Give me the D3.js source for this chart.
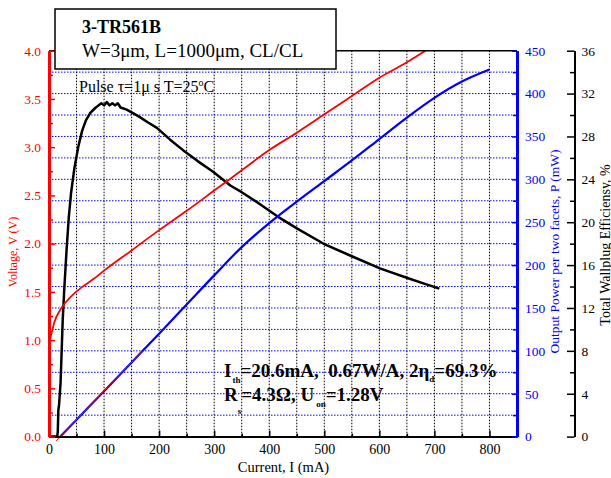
<!DOCTYPE html>
<html>
<head>
<meta charset="utf-8">
<script src="https://cdn.jsdelivr.net/npm/d3@7"></script>
<style>
body { margin: 0; background: #fff; }
svg { display: block; font-family: 'Liberation Serif', 'Times New Roman', serif; }
</style>
</head>
<body>
<script>
// Chart parameters
const width = 611;
const height = 478;
const plot = { left: 49, right: 517, top: 50.7, bottom: 436.6 };
const effAxisX = 574.5;

// Tick labels
const currentTicks = [0, 100, 200, 300, 400, 500, 600, 700, 800];
const voltageTicks = [0, 0.5, 1, 1.5, 2, 2.5, 3, 3.5, 4];
const powerTicks = [0, 50, 100, 150, 200, 250, 300, 350, 400, 450];
const effTicks = [0, 4, 8, 12, 16, 20, 24, 28, 32, 36];

// Voltage V (V) vs current I (mA)
const voltage = [
  [1, 0.95], [2, 1.0], [5, 1.08], [10, 1.19], [20, 1.31], [30, 1.39], [45, 1.48],
  [60, 1.55], [80, 1.63], [100, 1.72], [150, 1.93], [200, 2.14], [250, 2.34],
  [300, 2.55], [350, 2.76], [400, 2.97], [450, 3.15], [500, 3.34], [550, 3.53],
  [600, 3.72], [650, 3.88], [700, 4.06]
];

// Output power P (mW) vs current I (mA)
const power = [
  [20.6, 0], [50, 19.7], [100, 53], [150, 86.5], [200, 120], [250, 154], [300, 188],
  [350, 221], [400, 249], [450, 274], [500, 298], [550, 322], [600, 347],
  [650, 372], [700, 395], [750, 414], [800, 428]
];

// Linear fit of P-I near threshold
const powerFit = [[13, -5], [170, 100]];

// Wallplug efficiency (%) vs current I (mA)
const efficiency = [
  [0, 0], [15, 0], [16, 0.5], [17, 2.5], [18, 2.8], [19, 3.5], [21, 5], [22, 6.5],
  [24, 9.5], [25, 11], [28, 14], [32, 17.5], [36, 20.5], [40, 22.7], [46, 25],
  [53, 27], [60, 28.5], [67, 29.5], [75, 30.2], [85, 30.7], [90, 30.9], [95, 31.1],
  [100, 30.9], [105, 31.2], [110, 30.9], [115, 31.1], [120, 30.9], [125, 31.1],
  [130, 30.7], [141, 30.5], [155, 30.1], [165, 29.8], [180, 29.3], [196, 28.8],
  [220, 27.7], [244, 26.7], [270, 25.7], [298, 24.7], [330, 23.4], [350, 22.8],
  [380, 21.8], [416, 20.5], [451, 19.4], [502, 17.9], [551, 16.8], [601, 15.7],
  [651, 14.8], [680, 14.3], [709, 13.8]
];

const svg = d3.select('body')
  .append('svg')
  .attr('width', width)
  .attr('height', height);

// Scales
const x = d3.scaleLinear().domain([0, 850]).range([plot.left, plot.right]);
const yV = d3.scaleLinear().domain([0, 4]).range([plot.bottom, plot.top]);
const yP = d3.scaleLinear().domain([0, 450]).range([plot.bottom, plot.top]);
const yE = d3.scaleLinear().domain([0, 36]).range([plot.bottom, plot.top]);

// Grid
svg.append('g')
  .selectAll('line')
  .data(d3.range(50, 801, 50))
  .join('line')
  .attr('x1', d => x(d)).attr('x2', d => x(d))
  .attr('y1', plot.top).attr('y2', plot.bottom)
  .attr('stroke', '#000').attr('stroke-width', 1)
  .attr('stroke-dasharray', '1.5,1.5');

svg.append('g')
  .selectAll('line')
  .data(d3.range(25, 426, 25))
  .join('line')
  .attr('x1', plot.left).attr('x2', plot.right)
  .attr('y1', d => yP(d)).attr('y2', d => yP(d))
  .attr('stroke', '#0000ff').attr('stroke-width', 1)
  .attr('stroke-dasharray', '1.5,1.5');

// Curves
svg.append('clipPath').attr('id', 'clip')
  .append('rect')
  .attr('x', plot.left).attr('y', plot.top)
  .attr('width', plot.right - plot.left).attr('height', plot.bottom - plot.top + 2);

const curves = svg.append('g').attr('clip-path', 'url(#clip)');

curves.append('path')
  .datum(efficiency)
  .attr('fill', 'none').attr('stroke', '#000').attr('stroke-width', 2.5)
  .attr('stroke-linejoin', 'round')
  .attr('d', d3.line().x(d => x(d[0])).y(d => yE(d[1])));

curves.append('path')
  .datum(power)
  .attr('fill', 'none').attr('stroke', '#0000ff').attr('stroke-width', 2.2)
  .attr('d', d3.line().x(d => x(d[0])).y(d => yP(d[1])).curve(d3.curveMonotoneX));

curves.append('path')
  .datum(voltage)
  .attr('fill', 'none').attr('stroke', '#ff0000').attr('stroke-width', 1.8)
  .attr('d', d3.line().x(d => x(d[0])).y(d => yV(d[1])).curve(d3.curveMonotoneX));

svg.append('path')
  .datum(powerFit)
  .attr('fill', 'none').attr('stroke', '#ff0000').attr('stroke-width', 1)
  .attr('d', d3.line().x(d => x(d[0])).y(d => yP(d[1])));

// Axes
function styleAxis(g, color, width, size) {
  g.attr('font-family', null).attr('font-size', null);
  g.select('.domain').attr('stroke', color).attr('stroke-width', width);
  g.selectAll('.tick line').attr('stroke', color).attr('stroke-width', 1.5);
  g.selectAll('.tick text').attr('fill', color).style('font-size', size + 'px');
}

// top frame
svg.append('line')
  .attr('x1', plot.left).attr('x2', plot.right)
  .attr('y1', plot.top).attr('y2', plot.top)
  .attr('stroke', '#000').attr('stroke-width', 1.5);

// bottom
svg.append('g')
  .attr('transform', `translate(0, ${plot.bottom})`)
  .call(d3.axisBottom(x).tickValues(d3.range(50, 851, 100)).tickSize(-3).tickSizeOuter(0).tickFormat(''))
  .call(g => styleAxis(g, '#000', 2, 14));
svg.append('g')
  .attr('transform', `translate(0, ${plot.bottom})`)
  .call(d3.axisBottom(x).tickValues(currentTicks).tickSize(-6).tickSizeOuter(0).tickPadding(7))
  .call(g => styleAxis(g, '#000', 2, 14));

// left, voltage
svg.append('g')
  .attr('transform', `translate(${plot.left}, 0)`)
  .call(d3.axisLeft(yV).tickValues(d3.range(0.25, 4, 0.5)).tickSize(-4).tickSizeOuter(0).tickFormat(''))
  .call(g => styleAxis(g, '#ff0000', 3, 13.5));
svg.append('g')
  .attr('transform', `translate(${plot.left}, 0)`)
  .call(d3.axisLeft(yV).tickValues(voltageTicks).tickFormat(d3.format('.1f')).tickSize(-6).tickSizeOuter(0).tickPadding(8))
  .call(g => styleAxis(g, '#ff0000', 3, 13.5));

// right, power
svg.append('g')
  .attr('transform', `translate(${plot.right}, 0)`)
  .call(d3.axisRight(yP).tickValues(d3.range(25, 450, 50)).tickSize(-4).tickSizeOuter(0).tickFormat(''))
  .call(g => styleAxis(g, '#0000ff', 3, 13.5));
svg.append('g')
  .attr('transform', `translate(${plot.right}, 0)`)
  .call(d3.axisRight(yP).tickValues(powerTicks).tickSize(-5).tickSizeOuter(0).tickPadding(8))
  .call(g => styleAxis(g, '#0000ff', 3, 13.5));

// far right, efficiency
svg.append('g')
  .attr('transform', `translate(${effAxisX}, 0)`)
  .call(d3.axisRight(yE).tickValues(d3.range(2, 36, 4)).tickSize(-4.5).tickSizeOuter(0).tickFormat(''))
  .call(g => styleAxis(g, '#000', 2, 13.5));
svg.append('g')
  .attr('transform', `translate(${effAxisX}, 0)`)
  .call(d3.axisRight(yE).tickValues(effTicks).tickSize(-7.5).tickSizeOuter(0).tickPadding(7))
  .call(g => styleAxis(g, '#000', 2, 13.5));

// Axis titles
svg.append('text')
  .attr('x', 283.5).attr('y', 472)
  .attr('text-anchor', 'middle').style('font-size', '14.5px')
  .text('Current, I (mA)');

svg.append('text')
  .attr('transform', 'translate(17, 252) rotate(-90)')
  .attr('text-anchor', 'middle').attr('fill', '#ff0000').style('font-size', '12px')
  .text('Voltage, V (V)');

svg.append('text')
  .attr('transform', 'translate(558.5, 251.5) rotate(-90)')
  .attr('text-anchor', 'middle').attr('fill', '#0000ff').style('font-size', '13.5px')
  .text('Output Power per two facets, P (mW)');

svg.append('text')
  .attr('transform', 'translate(609.5, 245) rotate(-90)')
  .attr('text-anchor', 'middle').attr('fill', '#000').style('font-size', '14px')
  .text('Total Wallplug Efficiensy, %');

// Title box
svg.append('rect')
  .attr('x', 55).attr('y', 9).attr('width', 281).attr('height', 60)
  .attr('fill', '#fff').attr('stroke', '#000').attr('stroke-width', 1.5);

svg.append('text')
  .attr('x', 82).attr('y', 33.3)
  .style('font-size', '18px').style('font-weight', 'bold')
  .text('3-TR561B');

svg.append('text')
  .attr('x', 82).attr('y', 57)
  .style('font-size', '19px')
  .text('W=3μm, L=1000μm, CL/CL');

// Conditions
const pulse = svg.append('text')
  .attr('x', 79).attr('y', 91.7)
  .style('font-size', '16px').style('white-space', 'pre');
pulse.append('tspan').text('Pulse τ=1μ s T=25');
pulse.append('tspan').attr('dy', -6).style('font-size', '10px').text('o');
pulse.append('tspan').attr('dy', 6).text('C');

// Parameters
const line1 = svg.append('text')
  .attr('x', 224).attr('y', 376.7)
  .style('font-size', '19px').style('font-weight', 'bold').style('white-space', 'pre');
line1.append('tspan').text('I');
line1.append('tspan').attr('dx', 1).attr('dy', 6.5).style('font-size', '9px').text('th');
line1.append('tspan').attr('dy', -6.5).text('=20.6mA,  0.67W/A, 2η');
line1.append('tspan').attr('dy', 5).style('font-size', '9px').text('d');
line1.append('tspan').attr('dy', -5).text('=69.3%');

const line2 = svg.append('text')
  .attr('x', 224).attr('y', 400.7)
  .style('font-size', '19px').style('font-weight', 'bold').style('white-space', 'pre');
line2.append('tspan').text('R');
line2.append('tspan').attr('dy', 13).style('font-size', '9px').text('s');
line2.append('tspan').attr('dy', -13).text('=4.3Ω, U');
line2.append('tspan').attr('dx', 2).attr('dy', 6).style('font-size', '9px').text('on');
line2.append('tspan').attr('dy', -6).text('=1.28V');
</script>
</body>
</html>
